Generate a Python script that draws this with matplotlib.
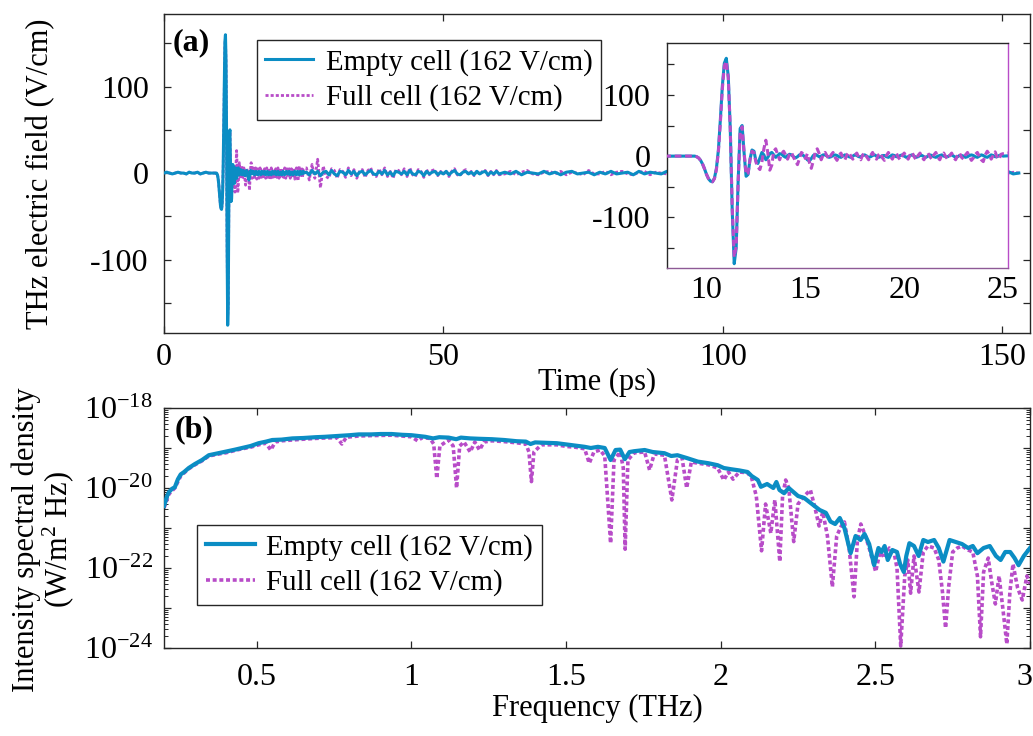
import numpy as np
import matplotlib
matplotlib.use("Agg")
import matplotlib.pyplot as plt
from matplotlib.ticker import MultipleLocator, FuncFormatter, LogLocator, NullFormatter
from matplotlib.transforms import ScaledTranslation

plt.rcParams['font.family'] = ['Liberation Serif', 'DejaVu Serif']
plt.rcParams['mathtext.fontset'] = 'custom'
plt.rcParams['mathtext.rm'] = 'Liberation Serif'
plt.rcParams['mathtext.it'] = 'Liberation Serif:italic'
plt.rcParams['axes.unicode_minus'] = False

BLUE = '#0B8DC4'
MAG = '#B84CC8'
SPINE = '#262626'
LBL_E = 'Empty cell (162 V/cm)'
LBL_F = 'Full cell (162 V/cm)'

# ---- time-domain data (ps, V/cm) ----
t_pre = np.arange(0, 9.01, 0.5)
e_pre = [0, 1, 0, -1, 0, 1, 0, 0, -1, 1, 0, 0, 1, -1, 0, 1, 0, 0, 0]

t_pulse = np.round(np.arange(9.4, 25.01, 0.1), 2)
e_empty_pulse = [
    0, -1, -3, -7, -13, -21,
    -30, -37, -41, -42, -36, -20, 10, 60, 115, 152,
    160, 130, 45, -90, -176, -150, -40, 45, 50, 5,
    -33, -30, -5, 10, 8, -8, -12, -3, 6, 2,
    -6, -2, 4, 6, 2, -2, 1, 4, 3, 0,
    -2, 1, 3, 2, -1, -3, -1, 2, 3, 1,
    -2, -6, -8, -4, 1, 3, 1, -1, 0, 2,
    2, 0, -2, -1, 1, 2, 1, -1, -2, 0,
    2, 1, -1, -2, 0, 2, 1, -1, -1, 1,
    2, 0, -2, -1, 1, 2, 0, -2, -1, 1,
    1, -1, -2, 0, 2, 1, -1, -1, 1, 2,
    0, -2, -1, 1, 2, 0, -2, -1, 1, 1,
    -1, -2, 0, 2, 1, -1, -2, 0, 1, 2,
    0, -1, -1, 1, 2, 0, -2, -1, 1, 1,
    0, -2, -1, 1, 2, 1, -1, -2, 0, 2,
    1, -1, -2, 0, 2, 1, -1, -1, 1, 2,
    0]
e_full_pulse = [
    0, -1, -3, -7, -13, -21,
    -30, -37, -41, -42, -37, -22, 7, 55, 110, 148,
    155, 128, 45, -85, -165, -148, -42, 40, 48, 6,
    -30, -28, -6, 8, 6, -10, -18, -22, -10, 12,
    26, 5, -23, -15, 8, 12, 2, -6, 4, 8,
    2, -5, 3, 6, -2, -8, -14, -4, 6, 3,
    -4, 4, -10, -20, -8, 6, 12, 4, -6, 2,
    6, 0, -5, 2, 6, -2, -7, 1, 5, -3,
    -6, 2, 6, 0, -5, 1, 5, -2, -6, 2,
    5, -1, -6, 1, 6, -2, -5, 2, 5, -3,
    -7, 1, 6, 0, -5, 2, 5, -2, -6, 1,
    5, -1, -5, 2, 6, -1, -6, 1, 5, -2,
    -6, 1, 5, -1, -5, 2, 6, -2, -6, 2,
    5, -1, -5, 1, 5, -2, -6, 1, 5, -2,
    -5, 2, 6, -1, -7, -3, 3, 6, 0, -6,
    -9, 2, 8, 3, -5, 1, 7, -2, -5, 3,
    4]

t_tail_a = np.arange(25.5, 60.01, 0.5)
e_empty_tail_a = [
    1, -2, 3, -1, 2, -3, 1, 2, -2, 3,
    -1, -3, 2, 1, -2, 3, -1, 2, -3, 1,
    2, -2, 1, 3, -1, -2, 2, -1, 3, -2,
    1, -3, 2, 1, -1, 2, -2, 3, -1, -2,
    2, 1, -3, 2, -1, 1, 2, -2, 1, -1,
    2, -2, 1, 3, -1, -2, 1, 2, -1, 1,
    -2, 2, -1, 1, 2, -2, 1, -1, 2, -1]
e_full_tail_a = [
    6, -8, 10, -6, 16, -17, 8, -4, -6, 5,
    3, -6, 4, 2, -5, 6, -3, 4, -6, 2,
    4, -5, 3, 6, -3, -4, 5, -2, 6, -4,
    2, -6, 4, 3, -2, 5, -4, 6, -2, -4,
    4, 2, -5, 4, -2, 3, 4, -3, 2, -2,
    3, -4, 2, 5, -2, -3, 2, 4, -2, 2,
    -3, 3, -2, 2, 3, -3, 2, -2, 3, -2]

t_tail_b = np.arange(61, 153.5, 1.0)
e_empty_tail_b = [
    1, -1, 2, -2, 1, 0, -1, 2, -1, 1,
    -2, 1, 2, -1, 0, 1, -2, 1, -1, 2,
    -1, 0, 1, -2, 2, -1, 1, 0, -1, 2,
    -2, 1, -1, 1, 2, -1, 0, -2, 1, 1,
    -1, 2, -1, 0, 1, -2, 1, 2, -1, 0,
    1, -1, 2, -2, 1, 0, -1, 1, 2, -1,
    -1, 1, 0, -2, 1, 2, -1, 1, -1, 0,
    2, -1, 1, -2, 0, 1, 2, -1, -1, 1,
    0, -2, 1, 1, -1, 2, -1, 0, 1, -1,
    2, -1, 0]
e_full_tail_b = [
    -1, 2, -2, 1, 3, -1, -2, 1, 2, -1,
    2, -2, 1, 0, -2, 3, -1, -1, 2, -2,
    1, 2, -1, -2, 1, 2, -2, 1, 0, -1,
    2, -1, 1, -2, -1, 2, 1, -1, -2, 2,
    1, -2, 1, 2, -1, 0, 2, -1, 1, -2,
    -1, 2, -1, 1, 2, -2, 1, -1, -2, 1,
    2, -1, 1, 0, -2, 1, 2, -1, 1, -2,
    -1, 2, 0, 1, -2, -1, 2, 1, -1, 2,
    -2, 1, 0, -1, 2, -1, 1, -2, 0, 1,
    -1, 1, 0]

t_all = np.concatenate([t_pre, t_pulse, t_tail_a, t_tail_b])
e_empty = np.concatenate([e_pre, e_empty_pulse, e_empty_tail_a, e_empty_tail_b])
e_full = np.concatenate([e_pre, e_full_pulse, e_full_tail_a, e_full_tail_b])

# ---- spectra (THz, log10 W/m^2 Hz) ----
f_empty = [0.200, 0.210, 0.216, 0.226, 0.235, 0.245, 0.254, 0.265, 0.280, 0.300,
           0.323, 0.345, 0.37, 0.40, 0.43, 0.452, 0.48, 0.506, 0.53, 0.55,
           0.58, 0.615, 0.65, 0.69, 0.72, 0.76, 0.80, 0.83, 0.87, 0.90,
           0.936, 0.97, 1.00, 1.045, 1.07, 1.09, 1.12, 1.145, 1.16, 1.19,
           1.22, 1.26, 1.30, 1.34, 1.37, 1.385, 1.40, 1.44, 1.47, 1.50,
           1.53, 1.56, 1.58, 1.603, 1.625, 1.644, 1.66, 1.675, 1.69, 1.705,
           1.72, 1.754, 1.78, 1.818, 1.84, 1.86, 1.89, 1.926, 1.96, 1.99,
           2.01, 2.033, 2.06, 2.087, 2.10, 2.12, 2.13, 2.15, 2.17, 2.18,
           2.19, 2.205, 2.22, 2.25, 2.27, 2.30, 2.32, 2.34, 2.355, 2.37,
           2.385, 2.40, 2.42, 2.436, 2.452, 2.465, 2.48, 2.496, 2.51, 2.52,
           2.53, 2.54, 2.555, 2.57, 2.58, 2.592, 2.60, 2.61, 2.625, 2.64,
           2.655, 2.67, 2.69, 2.705, 2.72, 2.74, 2.76, 2.78, 2.80, 2.815,
           2.83, 2.85, 2.87, 2.89, 2.905, 2.92, 2.936, 2.95, 2.963, 2.98,
           3.00]
s_empty = [-20.45, -20.2, -20.1, -20.02, -19.98, -19.78, -19.66, -19.6, -19.5, -19.4,
           -19.3, -19.18, -19.14, -19.09, -19.04, -19.0, -18.95, -18.88, -18.84, -18.8,
           -18.79, -18.76, -18.75, -18.73, -18.72, -18.7, -18.68, -18.66, -18.66, -18.65,
           -18.65, -18.67, -18.68, -18.72, -18.76, -18.73, -18.74, -18.78, -18.74, -18.76,
           -18.77, -18.78, -18.8, -18.83, -18.84, -18.9, -18.86, -18.87, -18.88, -18.91,
           -18.94, -18.97, -19.0, -18.97, -19.0, -19.3, -19.05, -19.04, -19.28, -19.1,
           -19.08, -19.05, -19.1, -19.13, -19.2, -19.18, -19.25, -19.34, -19.38, -19.43,
           -19.5, -19.53, -19.56, -19.6, -19.7, -19.8, -19.97, -19.9, -20.0, -19.85,
           -20.05, -20.13, -20.0, -20.2, -20.25, -20.43, -20.55, -20.62, -20.84, -20.9,
           -20.75, -21.0, -21.63, -21.2, -21.3, -21.15, -21.4, -21.93, -21.5, -21.6,
           -21.45, -21.8, -21.55, -21.6, -21.9, -22.1, -21.7, -21.38, -21.45, -21.7,
           -21.3, -21.35, -21.3, -21.5, -21.84, -21.3, -21.35, -21.4, -21.5, -21.45,
           -21.63, -21.5, -21.45, -21.7, -21.8, -21.6, -21.6, -21.75, -21.93, -21.7,
           -21.5]

f_full = [0.200, 0.216, 0.235, 0.254, 0.28, 0.30, 0.323, 0.345, 0.37, 0.40,
          0.43, 0.452, 0.48, 0.506, 0.53, 0.545, 0.56, 0.58, 0.615, 0.65,
          0.69, 0.72, 0.76, 0.775, 0.79, 0.83, 0.87, 0.936, 0.97, 1.00,
          1.02, 1.035, 1.06, 1.072, 1.082, 1.092, 1.12, 1.135, 1.146, 1.156,
          1.17, 1.19, 1.205, 1.22, 1.235, 1.26, 1.30, 1.34, 1.37, 1.38,
          1.388, 1.396, 1.42, 1.47, 1.50, 1.53, 1.56, 1.575, 1.59, 1.61,
          1.625, 1.644, 1.655, 1.675, 1.685, 1.691, 1.70, 1.72, 1.754, 1.77,
          1.785, 1.818, 1.842, 1.86, 1.875, 1.89, 1.905, 1.926, 1.96, 1.99,
          2.01, 2.025, 2.04, 2.06, 2.087, 2.10, 2.115, 2.132, 2.145, 2.162,
          2.175, 2.191, 2.20, 2.21, 2.22, 2.236, 2.25, 2.27, 2.29, 2.305,
          2.318, 2.33, 2.345, 2.361, 2.375, 2.39, 2.40, 2.415, 2.431, 2.442,
          2.453, 2.468, 2.48, 2.501, 2.515, 2.53, 2.545, 2.56, 2.57, 2.582,
          2.595, 2.605, 2.614, 2.625, 2.641, 2.655, 2.67, 2.69, 2.705, 2.717,
          2.727, 2.737, 2.75, 2.765, 2.78, 2.80, 2.815, 2.83, 2.84, 2.85,
          2.865, 2.875, 2.888, 2.90, 2.915, 2.925, 2.935, 2.945, 2.96, 2.975,
          2.99, 3.00]
s_full = [-20.5, -20.15, -20.0, -19.7, -19.52, -19.42, -19.32, -19.2, -19.16, -19.12,
          -19.06, -19.02, -18.98, -18.92, -18.88, -19.05, -18.85, -18.82, -18.8, -18.78,
          -18.76, -18.75, -18.74, -18.9, -18.73, -18.7, -18.69, -18.68, -18.7, -18.72,
          -18.82, -18.74, -18.76, -18.9, -19.76, -18.95, -18.8, -18.95, -20.0, -18.95,
          -18.85, -19.1, -18.85, -19.05, -18.85, -18.82, -18.84, -18.87, -18.9, -19.1,
          -19.84, -19.1, -18.92, -18.92, -18.96, -18.98, -19.02, -19.38, -19.1, -19.05,
          -19.2, -21.38, -19.3, -19.1, -19.5, -21.53, -19.3, -19.12, -19.1, -19.55,
          -19.15, -19.18, -20.3, -19.3, -19.25, -20.0, -19.35, -19.38, -19.42, -19.5,
          -19.8, -19.6, -19.78, -19.6, -19.62, -19.75, -20.2, -21.57, -20.4, -21.13,
          -20.3, -21.84, -20.2, -19.8, -20.0, -21.34, -20.4, -20.2, -20.05, -20.5,
          -20.95, -20.6, -21.2, -22.47, -21.2, -20.95, -20.85, -21.5, -22.72, -21.3,
          -20.9, -21.2, -21.5, -22.09, -21.6, -21.75, -21.5, -21.6, -22.0, -23.95,
          -22.2, -21.8, -22.63, -21.7, -22.6, -21.6, -21.45, -21.5, -21.8, -22.6,
          -23.5, -22.47, -21.6, -21.5, -21.45, -21.55, -21.6, -22.2, -23.72, -22.1,
          -21.75, -22.3, -22.9, -22.2, -23.2, -23.9, -22.6, -21.9, -22.5, -22.8,
          -22.2, -22.4]

DOTS = (0, (1.1, 0.75))
TICK_FS = 23
LEG_FS = 20.8


def style_axes(ax, lbl_size=TICK_FS):
    for sp in ax.spines.values():
        sp.set_color(SPINE)
        sp.set_linewidth(1.0)
    ax.tick_params(which='both', direction='in', colors=SPINE, labelcolor='black',
                   labelsize=lbl_size, width=0.9)


fig = plt.figure(figsize=(10.33, 7.36), dpi=100)

# ---- (a) time domain ----
ax1 = fig.add_axes([164 / 1033, 1 - 333 / 736, 866 / 1033, 319 / 736])
ax1.plot(t_all, e_full, color=MAG, lw=2.0, ls=DOTS, label=LBL_F, zorder=2)
ax1.plot(t_all, e_empty, color=BLUE, lw=2.2, label=LBL_E, zorder=3)
ax1.set_xlim(0, 155)
ax1.set_ylim(-185, 184)
ax1.xaxis.set_major_locator(MultipleLocator(50))
ax1.yaxis.set_major_locator(MultipleLocator(100))
ax1.yaxis.set_minor_locator(MultipleLocator(50))
style_axes(ax1)
ax1.tick_params(which='both', top=True, right=True, length=5)
ax1.tick_params(axis='x', pad=7)
ax1.tick_params(axis='y', pad=11)
ax1.set_xlabel('Time (ps)', fontsize=22, va='center')
ax1.xaxis.set_label_coords(0.5, -0.155)
ax1.set_ylabel('THz electric field (V/cm)', fontsize=22, va='center')
ax1.yaxis.set_label_coords(-0.142, 0.5)
ax1.text(0.01, 0.955, '(a)', transform=ax1.transAxes, fontsize=23,
         fontweight='bold', va='top', ha='left')
h, l = ax1.get_legend_handles_labels()
leg1 = ax1.legend(h[::-1], l[::-1], loc='upper left', bbox_to_anchor=(0.107, 0.918),
                  fontsize=LEG_FS, frameon=True, fancybox=False, edgecolor=SPINE,
                  framealpha=1, borderpad=0.3, labelspacing=0.3,
                  handlelength=1.65, handletextpad=0.45, borderaxespad=0)
leg1.get_frame().set_linewidth(1.0)

# inset
axin = fig.add_axes([667 / 1033, 1 - 268 / 736, 341 / 1033, 225 / 736], zorder=5)
axin.plot(t_all, e_empty, color=BLUE, lw=2.2, zorder=2)
axin.plot(t_all, e_full, color=MAG, lw=2.2, ls=(0, (2.2, 1.2)), zorder=3)
axin.set_xlim(8, 25.25)
axin.set_ylim(-183, 185)
axin.xaxis.set_major_locator(MultipleLocator(5))
axin.yaxis.set_major_locator(MultipleLocator(100))
axin.yaxis.set_minor_locator(MultipleLocator(50))
style_axes(axin)
axin.tick_params(which='both', length=5, bottom=False, top=False, right=False)
axin.tick_params(axis='x', pad=6)
axin.tick_params(axis='y', pad=12)
axin.spines['right'].set_color(MAG)
axin.spines['bottom'].set_color('#8E5A96')

# ---- (b) spectra ----
ax2 = fig.add_axes([164 / 1033, 1 - 648 / 736, 866 / 1033, 240 / 736])
ax2.semilogy(f_full, 10.0 ** np.array(s_full), color=MAG, lw=2.6, ls=DOTS,
             label=LBL_F, zorder=2)
ax2.semilogy(f_empty, 10.0 ** np.array(s_empty), color=BLUE, lw=3.0,
             label=LBL_E, zorder=3)
ax2.set_xlim(0.2, 3.0)
ax2.set_ylim(1e-24, 1e-18)
ax2.xaxis.set_major_locator(MultipleLocator(0.5))
ax2.xaxis.set_major_formatter(FuncFormatter(lambda v, p: '%g' % v))
ax2.yaxis.set_major_locator(LogLocator(base=10, numticks=20))
ax2.yaxis.set_minor_locator(LogLocator(base=10, subs=np.arange(2, 10), numticks=20))
ax2.yaxis.set_minor_formatter(NullFormatter())


def log_fmt(v, pos):
    ex = int(round(np.log10(v)))
    if ex % 2:
        return ''
    return r'$\mathregular{10^{%d}}$' % ex


ax2.yaxis.set_major_formatter(FuncFormatter(log_fmt))
style_axes(ax2)
ax2.tick_params(which='both', top=True, right=True)
ax2.tick_params(which='major', length=5)
ax2.tick_params(which='minor', length=3, width=0.7)
ax2.tick_params(axis='x', pad=11)
ax2.tick_params(axis='y', pad=8)
ax2.set_xlabel('Frequency (THz)', fontsize=22, va='center')
ax2.xaxis.set_label_coords(0.5, -0.25)
ax2.set_ylabel('Intensity spectral density\n(W/m$^2$ Hz)', fontsize=22,
               va='center', linespacing=0.95)
ax2.yaxis.set_label_coords(-0.139, 0.45)
ax2.text(0.012, 0.97, '(b)', transform=ax2.transAxes, fontsize=23,
         fontweight='bold', va='top', ha='left')
h, l = ax2.get_legend_handles_labels()
leg2 = ax2.legend(h[::-1], l[::-1], loc='upper left', bbox_to_anchor=(0.038, 0.5125),
                  fontsize=LEG_FS, frameon=True, fancybox=False, edgecolor=SPINE,
                  framealpha=1, borderpad=0.3, labelspacing=0.3,
                  handlelength=1.7, handletextpad=0.4, borderaxespad=0)
leg2.get_frame().set_linewidth(1.0)

# keep the last frequency label inside the figure
fig.canvas.draw()
for lbl in ax2.get_xticklabels():
    if lbl.get_text() == '3':
        lbl.set_transform(lbl.get_transform() +
                          ScaledTranslation(-6 / 100, 0, fig.dpi_scale_trans))

fig.savefig('out.png', dpi=100)
